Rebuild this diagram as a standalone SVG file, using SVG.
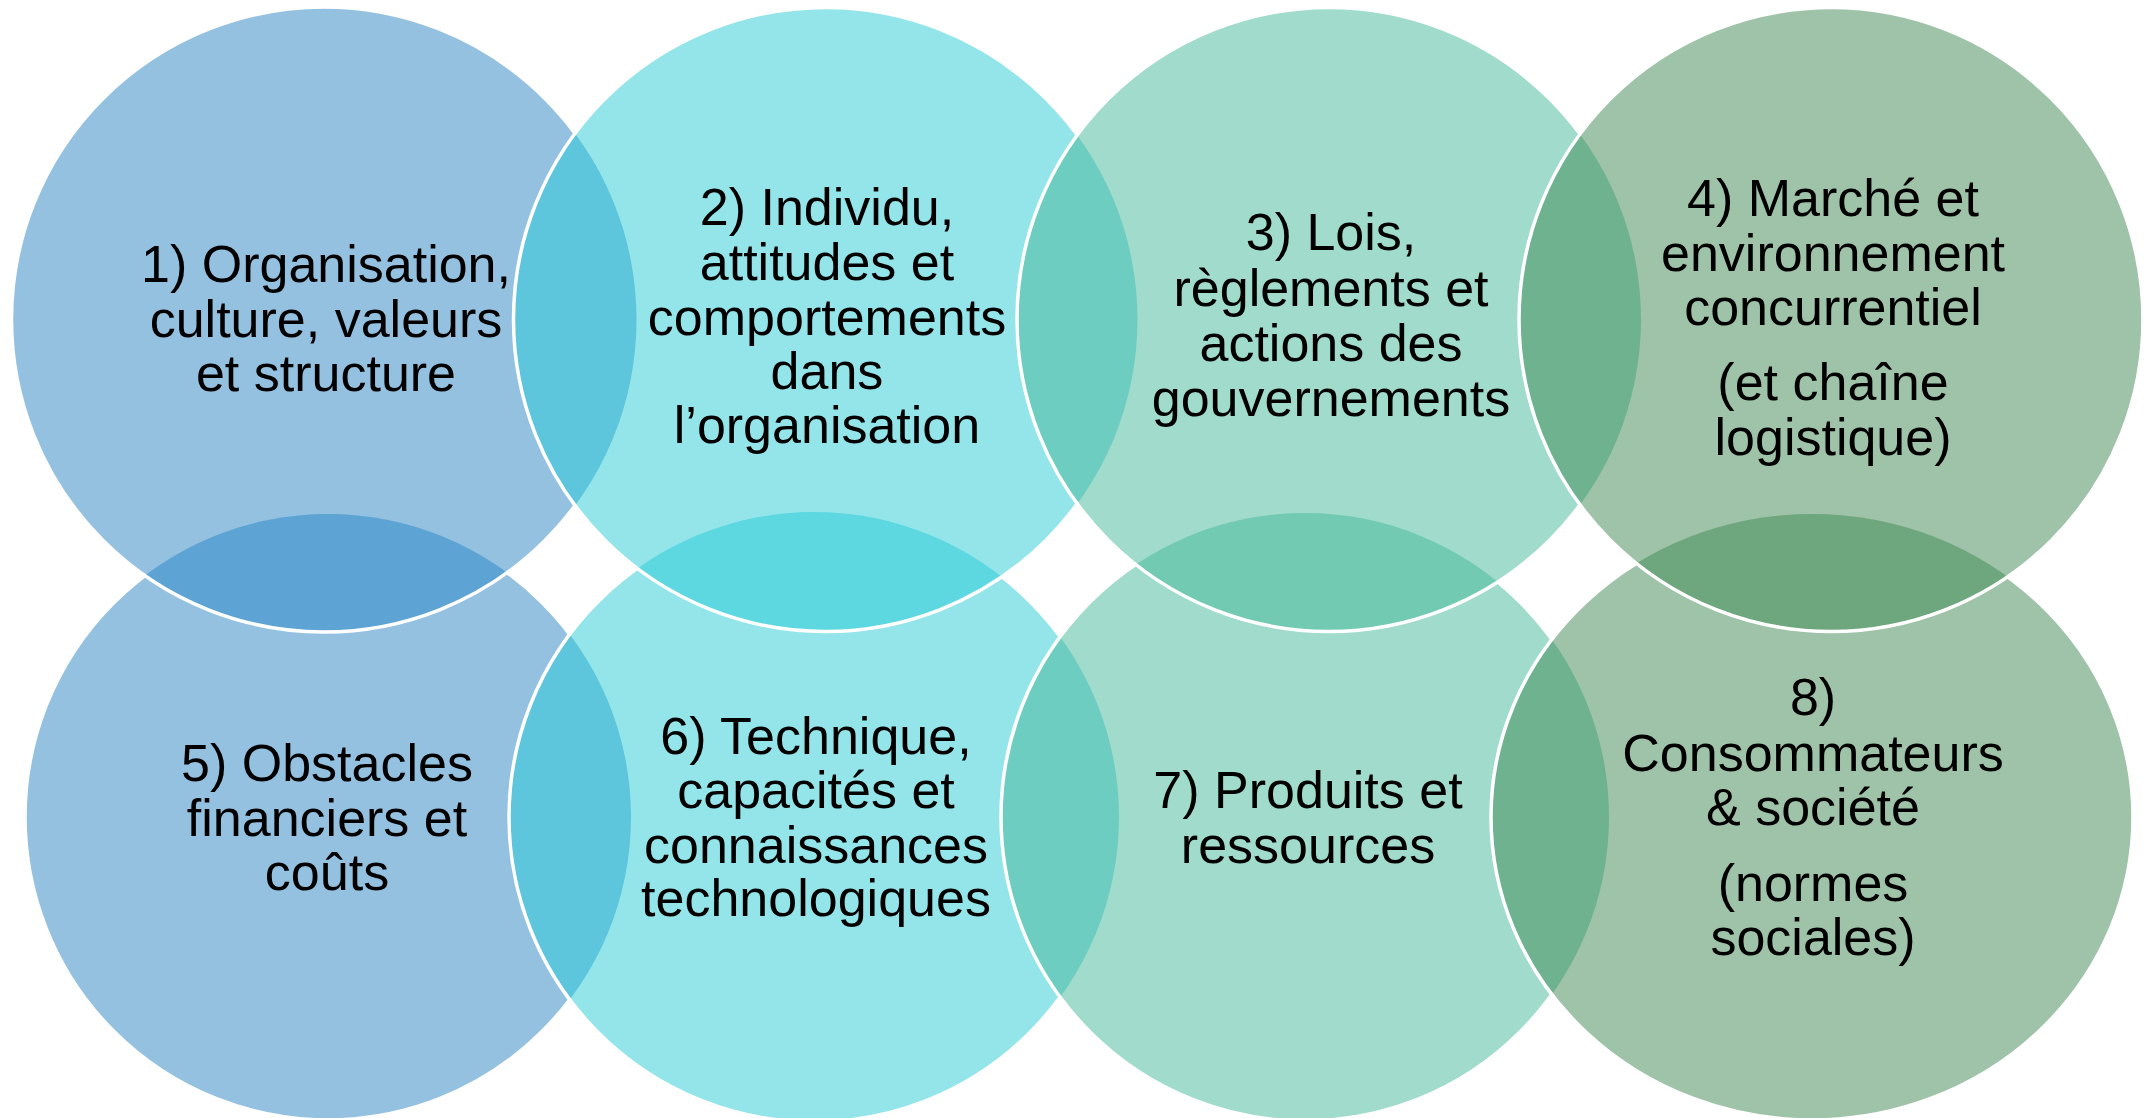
<svg xmlns="http://www.w3.org/2000/svg" xmlns:xlink="http://www.w3.org/1999/xlink" width="2148" height="1118" viewBox="0 0 2148 1118">
  <style>
    .t { font-family: "Liberation Sans", Arial, Helvetica, sans-serif; font-size: 52px; fill: #000; text-anchor: middle; }
    .edge { fill: none; stroke: #ffffff; stroke-width: 3.5; }
    .blue { fill: #95C1E1; }
    .cyan { fill: #94E5EA; }
    .teal { fill: #A0DBCC; }
    .green { fill: #9FC3A9; }
  </style>
  <defs>
    <circle id="s1" cx="324" cy="319.5" r="312.5"/>
    <circle id="s2" cx="825.5" cy="319.5" r="312"/>
    <circle id="s3" cx="1329" cy="319.5" r="312"/>
    <circle id="s4" cx="1831" cy="319.5" r="312"/>
    <circle id="s5" cx="328" cy="817" r="303"/>
    <circle id="s6" cx="814" cy="817" r="305"/>
    <circle id="s7" cx="1305" cy="817" r="304"/>
    <ellipse id="s8" cx="1812" cy="817" rx="321" ry="303"/>
    <clipPath id="c1"><use xlink:href="#s1"/></clipPath>
    <clipPath id="c2"><use xlink:href="#s2"/></clipPath>
    <clipPath id="c3"><use xlink:href="#s3"/></clipPath>
    <clipPath id="c5"><use xlink:href="#s5"/></clipPath>
    <clipPath id="c6"><use xlink:href="#s6"/></clipPath>
    <clipPath id="c7"><use xlink:href="#s7"/></clipPath>
    <clipPath id="c8"><use xlink:href="#s8"/></clipPath>
  </defs>
  <rect width="2148" height="1118" fill="#ffffff"/>

  <g id="node5">
    <use xlink:href="#s5" class="blue"/>
    <use xlink:href="#s5" class="edge"/>
    <text class="t" x="327" y="781">5) Obstacles</text>
    <text class="t" x="327" y="836">financiers et</text>
    <text class="t" x="327" y="890">coûts</text>
  </g>

  <g id="node6">
    <use xlink:href="#s6" class="cyan"/>
    <use xlink:href="#s6" clip-path="url(#c5)" fill="#5DC5DC"/>
    <use xlink:href="#s6" class="edge"/>
    <text class="t" x="816" y="754">6) Technique,</text>
    <text class="t" x="816" y="808">capacités et</text>
    <text class="t" x="816" y="863">connaissances</text>
    <text class="t" x="816" y="916">technologiques</text>
  </g>

  <g id="node7">
    <use xlink:href="#s7" class="teal"/>
    <use xlink:href="#s7" clip-path="url(#c6)" fill="#6DCDC0"/>
    <use xlink:href="#s7" class="edge"/>
    <text class="t" x="1308" y="808">7) Produits et</text>
    <text class="t" x="1308" y="863">ressources</text>
  </g>

  <g id="node8">
    <use xlink:href="#s8" class="green"/>
    <use xlink:href="#s8" clip-path="url(#c7)" fill="#6FB290"/>
    <use xlink:href="#s8" class="edge"/>
    <text class="t" x="1813" y="715">8)</text>
    <text class="t" x="1813" y="771">Consommateurs</text>
    <text class="t" x="1813" y="825">&amp; société</text>
    <text class="t" x="1813" y="901">(normes</text>
    <text class="t" x="1813" y="955">sociales)</text>
  </g>

  <g id="node1">
    <use xlink:href="#s1" class="blue"/>
    <use xlink:href="#s1" clip-path="url(#c5)" fill="#5DA3D4"/>
    <use xlink:href="#s1" class="edge"/>
    <text class="t" x="326" y="282">1) Organisation,</text>
    <text class="t" x="326" y="337">culture, valeurs</text>
    <text class="t" x="326" y="391">et structure</text>
  </g>

  <g id="node2">
    <use xlink:href="#s2" class="cyan"/>
    <use xlink:href="#s2" clip-path="url(#c1)" fill="#5DC5DC"/>
    <use xlink:href="#s2" clip-path="url(#c6)" fill="#5DD8E0"/>
    <use xlink:href="#s2" class="edge"/>
    <text class="t" x="827" y="225">2) Individu,</text>
    <text class="t" x="827" y="280">attitudes et</text>
    <text class="t" x="827" y="335">comportements</text>
    <text class="t" x="827" y="389">dans</text>
    <text class="t" x="827" y="443">l’organisation</text>
  </g>

  <g id="node3">
    <use xlink:href="#s3" class="teal"/>
    <use xlink:href="#s3" clip-path="url(#c2)" fill="#6DCDC0"/>
    <use xlink:href="#s3" clip-path="url(#c7)" fill="#72CAB2"/>
    <use xlink:href="#s3" class="edge"/>
    <text class="t" x="1331" y="250">3) Lois,</text>
    <text class="t" x="1331" y="306">règlements et</text>
    <text class="t" x="1331" y="361">actions des</text>
    <text class="t" x="1331" y="416">gouvernements</text>
  </g>

  <g id="node4">
    <use xlink:href="#s4" class="green"/>
    <use xlink:href="#s4" clip-path="url(#c3)" fill="#6FB290"/>
    <use xlink:href="#s4" clip-path="url(#c8)" fill="#6EA67E"/>
    <use xlink:href="#s4" class="edge"/>
    <text class="t" x="1833" y="216">4) Marché et</text>
    <text class="t" x="1833" y="271">environnement</text>
    <text class="t" x="1833" y="325">concurrentiel</text>
    <text class="t" x="1833" y="400">(et chaîne</text>
    <text class="t" x="1833" y="455">logistique)</text>
  </g>

  <g id="connectors"/>
</svg>
